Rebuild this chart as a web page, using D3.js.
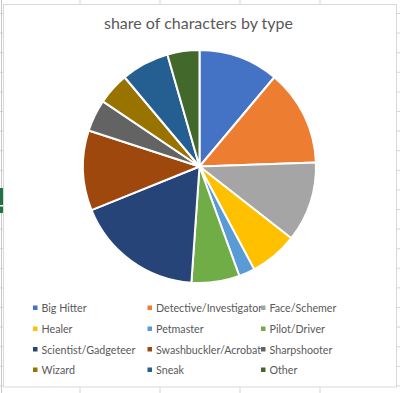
<!DOCTYPE html>
<html><head><meta charset="utf-8">
<script src="https://cdn.jsdelivr.net/npm/d3@7"></script>
<style>html,body{margin:0;padding:0;background:#fff;overflow:hidden}</style>
</head><body><svg id="c" width="400" height="393"></svg>
<script>
const categories = ["Big Hitter","Detective/Investigator","Face/Schemer","Healer","Petmaster","Pilot/Driver","Scientist/Gadgeteer","Swashbuckler/Acrobat","Sharpshooter","Wizard","Sneak","Other"];
const counts = [5,6,5,3,1,3,8,5,2,2,3,2];
const colors = ["#4472C4","#ED7D31","#A5A5A5","#FFC000","#5B9BD5","#70AD47","#264478","#9E480E","#636363","#997300","#255E91","#43682B"];
const title = "share of characters by type";

const svg = d3.select("#c");
const W = 400, H = 393;
const grid = "#d6d6d6";
const font = "Lato, 'Open Sans', sans-serif";

// spreadsheet background gridlines
const g0 = svg.append("g");
d3.range(80, W, 80).forEach(x => {
  g0.append("line").attr("x1", x).attr("x2", x).attr("y1", 0).attr("y2", H).attr("stroke", grid);
});
d3.range(13.5, H, 19.6).forEach(y => {
  g0.append("line").attr("x1", 0).attr("x2", W).attr("y1", y).attr("y2", y).attr("stroke", grid);
});
g0.append("line").attr("x1", 1.5).attr("x2", 1.5).attr("y1", 0).attr("y2", H).attr("stroke", "#c8c8c8");
g0.append("rect").attr("x", 0).attr("y", 188).attr("width", 3).attr("height", 25).attr("fill", "#217346");
g0.append("rect").attr("x", 0).attr("y", 205).attr("width", 3).attr("height", 1.5).attr("fill", "#fff");

// chart area
svg.append("rect").attr("x", 3.5).attr("y", 4.5).attr("width", 393).attr("height", 382.5)
  .attr("fill", "#fff").attr("stroke", "#d9d9d9");

svg.append("text").attr("x", 198.5).attr("y", 28.5).attr("text-anchor", "middle")
  .attr("font-family", font).attr("font-size", 16)
  .attr("fill", "#595959").text(title);

const cx = 199.5, cy = 166.5, r = 116.5;
const pie = d3.pie().sort(null).value(d => d)(counts);
const arc = d3.arc().innerRadius(0).outerRadius(r);
svg.append("g").attr("transform", `translate(${cx},${cy})`)
  .selectAll("path").data(pie).join("path")
  .attr("d", arc).attr("fill", (d, i) => colors[i])
  .attr("stroke", "#fff").attr("stroke-width", 2).attr("stroke-linejoin", "round");

// legend
const colX = [33, 147.5, 261];
const rowY = [308, 329, 349.5, 370];
const lg = svg.append("g");
categories.forEach((c, i) => {
  const x = colX[i % 3], y = rowY[Math.floor(i / 3)];
  lg.append("rect").attr("x", x).attr("y", y - 2.5).attr("width", 4.5).attr("height", 4.5).attr("fill", colors[i]);
  lg.append("text").attr("x", x + 8.5).attr("y", y + 4).attr("font-family", font)
    .attr("font-size", 10.7).attr("fill", "#595959").text(c);
});
</script>
</body></html>
